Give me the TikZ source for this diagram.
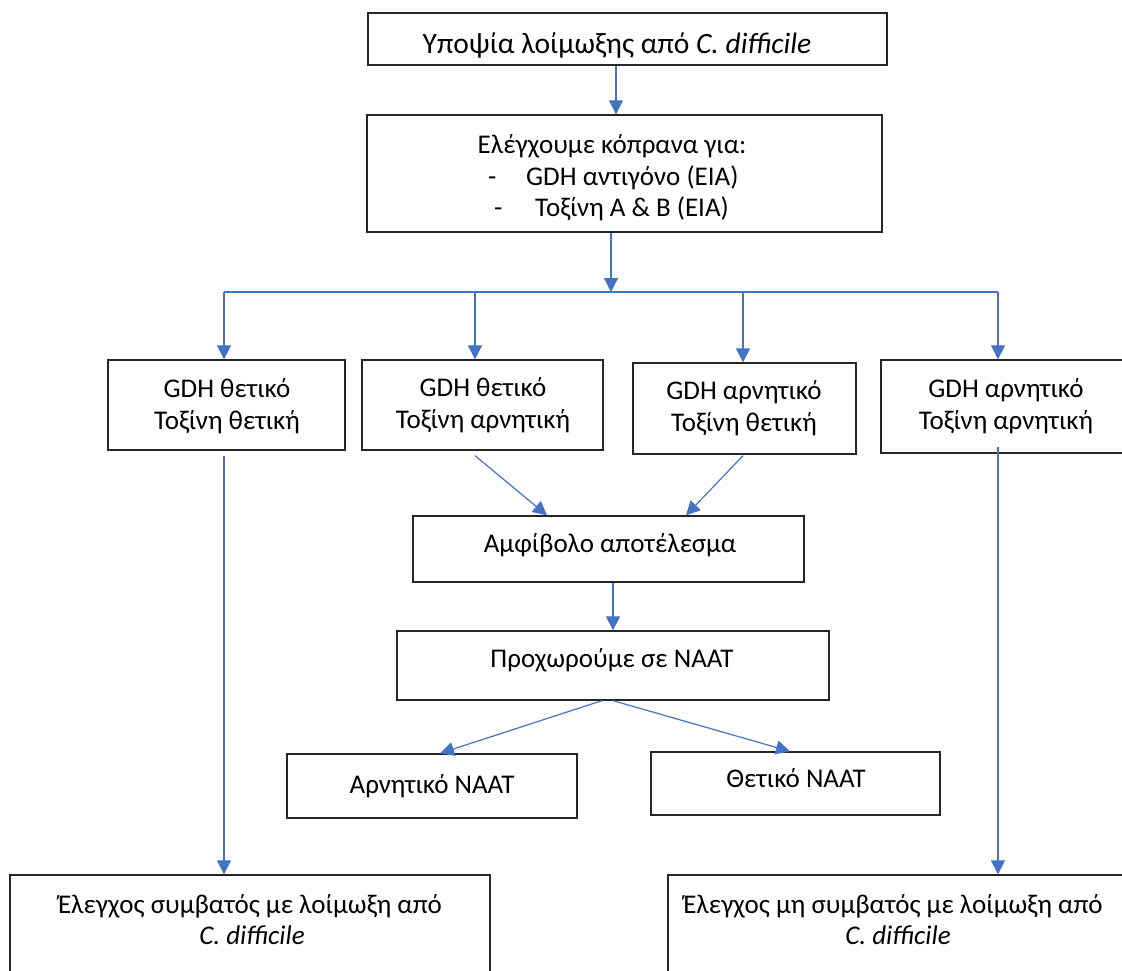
\documentclass[tikz,border=0pt]{standalone}
\usepackage{fontspec}
\setmainfont{Carlito}
\usetikzlibrary{arrows.meta}
\definecolor{conn}{HTML}{4472C4}
\definecolor{edge}{HTML}{262626}
\begin{document}
\begin{tikzpicture}[x=1pt,y=-1pt,
  box/.style={draw=edge, line width=1.3pt, inner sep=0pt, rectangle},
  arr/.style={draw=conn, line width=1.2pt, -{Triangle[width=14pt,length=14pt]}},
  ln/.style={draw=conn, line width=1.2pt},
  txt/.style={anchor=base, inner sep=0pt, font=\fontsize{27}{33}\selectfont},
  txtw/.style={anchor=base west, inner sep=0pt, font=\fontsize{27}{33}\selectfont},
  txtbig/.style={anchor=base, inner sep=0pt, font=\fontsize{29.5}{36}\selectfont},
]
\useasboundingbox (0,0) rectangle (1122,970);
\clip (0,0) rectangle (1122,970);

% boxes
\node[box, minimum width=519pt, minimum height=52pt] (top) at (627.5,39) {};
\node[box, minimum width=515pt, minimum height=117pt] (box2) at (624.5,173.5) {};
\node[box, minimum width=237pt, minimum height=90pt] (A) at (226.5,405) {};
\node[box, minimum width=241pt, minimum height=90pt] (B) at (482.5,405) {};
\node[box, minimum width=223pt, minimum height=91pt] (C) at (744.5,408.5) {};
\node[box, minimum width=250pt, minimum height=93pt] (D) at (1006,406.5) {};
\node[box, minimum width=391pt, minimum height=66pt] (Amf) at (608.5,549) {};
\node[box, minimum width=432pt, minimum height=69pt] (Proch) at (613,665.5) {};
\node[box, minimum width=290pt, minimum height=64pt] (ArnN) at (432,786) {};
\node[box, minimum width=289pt, minimum height=63pt] (ThetN) at (795.5,783.5) {};
\node[box, minimum width=480pt, minimum height=115pt] (BL) at (250,932.5) {};
\node[box, minimum width=460pt, minimum height=115pt] (BR) at (898,932.5) {};

% texts
\node[txtbig] (ttop) at (617,53) {Υποψία λοίμωξης από \textit{C. difficile}};
\node[txt] (t21) at (612,153) {Ελέγχουμε κόπρανα για:};
\node[txtw] (t22d) at (488,185) {-};
\node[txtw] (t22) at (526,185) {GDH αντιγόνο (EIA)};
\node[txtw] (t23d) at (494,216) {-};
\node[txtw] (t23) at (535,216) {Τοξίνη A \& B (EIA)};
\node[txt] (tA1) at (227,397) {GDH θετικό};
\node[txt] (tA2) at (227,429) {Τοξίνη θετική};
\node[txt] (tB1) at (483,396) {GDH θετικό};
\node[txt] (tB2) at (483,428) {Τοξίνη αρνητική};
\node[txt] (tC1) at (744,399) {GDH αρνητικό};
\node[txt] (tC2) at (744,431) {Τοξίνη θετική};
\node[txt] (tD1) at (1006,397) {GDH αρνητικό};
\node[txt] (tD2) at (1006,429) {Τοξίνη αρνητική};
\node[txt] (tAmf) at (610,552) {Αμφίβολο αποτέλεσμα};
\node[txt] (tProch) at (612,667) {Προχωρούμε σε NAAT};
\node[txt] (tArn) at (432,793) {Αρνητικό NAAT};
\node[txt] (tThet) at (796,787) {Θετικό NAAT};
\node[txt] (tBL1) at (250,913) {Έλεγχος συμβατός με λοίμωξη από};
\node[txt] (tBL2) at (252,944) {\textit{C. difficile}};
\node[txt] (tBR1) at (893,913) {Έλεγχος μη συμβατός με λοίμωξη από};
\node[txt] (tBR2) at (898,944) {\textit{C. difficile}};

% helper coordinates
\coordinate (cT) at (616,0);
\coordinate (c2) at (611,0);
\coordinate (cA) at (224,0);
\coordinate (cB) at (475,0);
\coordinate (cC) at (743,0);
\coordinate (cD) at (998,0);
\coordinate (cM) at (613,0);
\coordinate (cBa) at (547,0);
\coordinate (cCa) at (686,0);
\coordinate (cPl) at (602,0);
\coordinate (cAr) at (440,0);
\coordinate (cTh) at (790,0);
\coordinate (busL) at (224,292);
\coordinate (busR) at (998,292);

% connectors
\draw[arr] (top.south -| cT) -- (box2.north -| cT);
\draw[arr] (box2.south -| c2) -- (c2 |- busL);
\draw[ln] (busL) -- (busR);
\draw[arr] (busL) -- (A.north -| cA);
\draw[arr] (busL -| cB) -- (B.north -| cB);
\draw[arr] (busL -| cC) -- (C.north -| cC);
\draw[arr] (busR) -- (D.north -| cD);
\draw[arr] ([yshift=-5pt]A.south -| cA) -- (BL.north -| cA);
\draw[arr] ([yshift=7pt]D.south -| cD) -- (BR.north -| cD);
\draw[arr] ([yshift=-5pt]B.south -| cB) -- (Amf.north -| cBa);
\draw[arr] ([yshift=-1pt]C.south -| cC) -- (Amf.north -| cCa);
\draw[arr] (Amf.south -| cM) -- (Proch.north -| cM);
\draw[arr] (Proch.south -| cPl) -- (ArnN.north -| cAr);
\draw[arr] (Proch.south -| cM) -- (ThetN.north -| cTh);
\end{tikzpicture}
\end{document}
